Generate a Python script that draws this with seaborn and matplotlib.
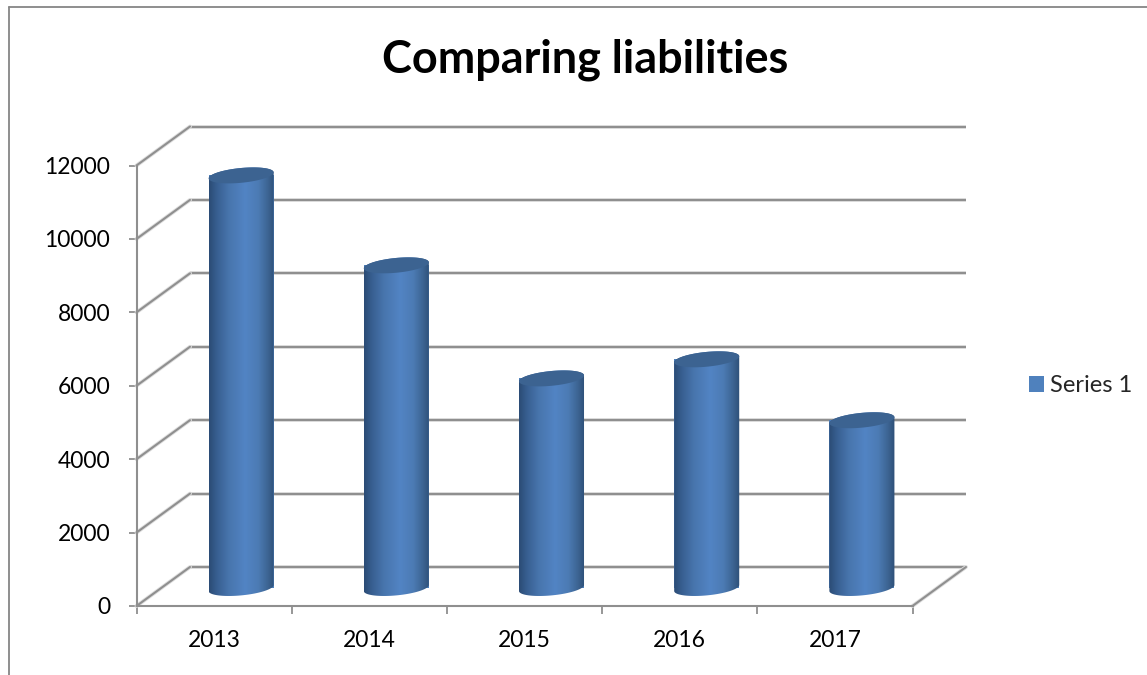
import numpy as np
import pandas as pd
import matplotlib
matplotlib.use("Agg")
import matplotlib.pyplot as plt
import matplotlib.patheffects as pe
from matplotlib.colors import LinearSegmentedColormap
from matplotlib.lines import Line2D
from matplotlib.path import Path
from matplotlib.patches import PathPatch
from matplotlib.transforms import Affine2D
import seaborn as sns

years = ["2013", "2014", "2015", "2016", "2017"]
liabilities = [11240, 8790, 5710, 6230, 4570]
series_name = "Series 1"
title_text = "Comparing liabilities"
y_ticks = [0, 2000, 4000, 6000, 8000, 10000, 12000]

W, H = 1147, 675
sns.set_theme(style="white")
plt.rcParams["font.family"] = ["Lato", "DejaVu Sans"]

fig = plt.figure(figsize=(W / 100, H / 100), dpi=100, facecolor="white")
L, R, T, B = 136.5, 912.5, 165.5, 606
ax = fig.add_axes([L / W, 1 - B / H, (R - L) / W, (B - T) / H])
ax.patch.set_visible(False)

df = pd.DataFrame({"year": years, "value": liabilities})
BAR = "#4f81bd"
sns.barplot(data=df, x="year", y="value", color=BAR, saturation=1, width=0.419,
            ax=ax, label=series_name, zorder=3)
ax.set_xlim(-0.5, len(years) - 0.5)
ax.set_ylim(0, 12000)
ax.set_xlabel("")
ax.set_ylabel("")
h_leg, l_leg = ax.get_legend_handles_labels()
if ax.get_legend() is not None:
    ax.get_legend().remove()

# pixel scales of the axes
px_x = (R - L) / len(years)
px_y = (B - T) / 12000
GRID = "#8f8f8f"
halo = [pe.withStroke(linewidth=2.8, foreground="#dedede")]
back = ax.transData + Affine2D().translate(53.5, 39)
mid = ax.transData + Affine2D().translate(27, 18)


def to_back(v):
    return ax.transData.inverted().transform(back.transform((-0.5, v)))


x0, x1 = ax.get_xlim()
for v in y_ticks:
    ax.plot([x0, x1], [v, v], transform=back, color=GRID, lw=1.5, clip_on=False,
            zorder=1, path_effects=halo, solid_capstyle="butt")
    bx, by = to_back(v)
    ax.plot([x0, bx], [v, by], color=GRID, lw=1.5, clip_on=False, zorder=1,
            path_effects=halo)
bx, by = to_back(0)
ax.plot([x1, x1 + (bx - x0)], [0, by], color=GRID, lw=1.5, clip_on=False, zorder=1,
        path_effects=halo)

# cylinders: shade each seaborn bar
cmap = LinearSegmentedColormap.from_list(
    "cyl",
    [(0, "#2b4c75"), (0.12, "#385f91"), (0.3, "#4875ad"), (0.55, "#5284c4"),
     (0.75, "#4c7bb4"), (0.9, "#3c6492"), (1, "#2e5078")],
)
RY = 7.4
TILT = 3.0
TOP_COLOR = "#3c6391"


def ring(cx, cy, rx, ts):
    xs = cx + rx * np.cos(ts)
    ys = cy + (RY * np.sin(ts) + TILT * np.cos(ts)) / px_y
    return np.column_stack([xs, ys])


grad = np.linspace(0, 1, 128).reshape(1, -1)
bars = list(ax.containers[0])
for bar in bars:
    bar.set_transform(mid)
    bar.set_linewidth(0)
    w = bar.get_width()
    cx = bar.get_x() + w / 2
    h = bar.get_height()
    rx = w / 2
    lower = ring(cx, 0, rx, np.linspace(np.pi, 2 * np.pi, 60))
    upper = ring(cx, h, rx, np.linspace(0, np.pi, 60))
    outline = np.vstack([lower, upper, lower[:1]])
    clip = Path(outline, closed=True)
    im = ax.imshow(grad, cmap=cmap, aspect="auto", interpolation="bilinear",
                   extent=[cx - rx, cx + rx, -12 / px_y, h + 12 / px_y],
                   transform=mid, zorder=4)
    im.set_clip_path(clip, mid)
    cap = ring(cx, h, rx, np.linspace(0, 2 * np.pi, 120))
    ax.add_patch(PathPatch(Path(cap, closed=True), transform=mid, facecolor=TOP_COLOR,
                           edgecolor="none", zorder=5, clip_on=False))
ax.set_xlim(x0, x1)
ax.set_ylim(0, 12000)

# axes
sns.despine(ax=ax, top=True, right=True)
for s in ("left", "bottom"):
    ax.spines[s].set_color(GRID)
    ax.spines[s].set_linewidth(1.5)
    ax.spines[s].set_zorder(2)
ax.set_yticks(y_ticks)
ax.set_yticklabels([str(v) for v in y_ticks], fontsize=16.5, color="black")
ax.tick_params(axis="y", left=True, length=6, width=1.3, color=GRID, pad=13)
ax.set_xticks(np.arange(-0.5, len(years), 1), minor=True)
ax.tick_params(axis="x", which="minor", bottom=True, length=6, width=1.3, color=GRID)
ax.tick_params(axis="x", which="major", bottom=False, length=0, pad=17, labelsize=16.5,
               labelcolor="black")

fig.text(585.5 / W, 1 - 60 / H, title_text, fontsize=32.4, fontweight="bold",
         ha="center", va="center", color="black")

# legend
fig.legend(h_leg[:1], l_leg[:1], loc="center left", bbox_to_anchor=(1029 / W, 1 - 386 / H),
           frameon=False, fontsize=17, handlelength=0.64, handleheight=0.64,
           handletextpad=0.25, borderpad=0, borderaxespad=0)

# chart frame
for xs, ys in [((8.5, 8.5), (H, 6.5)), ((8.5, W), (6.5, 6.5))]:
    fig.add_artist(Line2D([x / W for x in xs], [1 - y / H for y in ys], color="#868686", lw=1.3))

fig.savefig("out.png", dpi=100, facecolor="white")
